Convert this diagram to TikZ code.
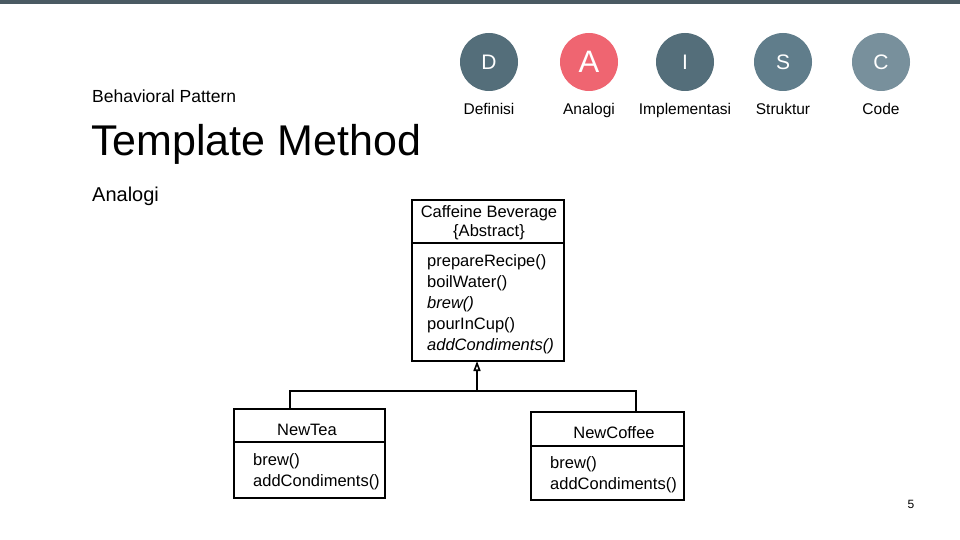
\documentclass[tikz,border=0pt]{standalone}
\usepackage{fontspec}
\setmainfont{Liberation Sans}
\usetikzlibrary{positioning,arrows.meta}

\definecolor{slate}{HTML}{546E7A}
\definecolor{slatemid}{HTML}{607D8B}
\definecolor{slatelight}{HTML}{78909C}
\definecolor{rosered}{HTML}{EF6571}
\definecolor{topbar}{HTML}{4A5A63}

\tikzset{
  stepdot/.style={circle,minimum size=58pt,inner sep=0pt,text=white,font=\fontsize{21}{21}\selectfont},
  steplabel/.style={font=\fontsize{15.5}{17}\selectfont,text=black},
  umlbox/.style={draw,line width=1.6pt},
  umltext/.style={font=\fontsize{16.5}{21}\selectfont,align=left,anchor=north west,inner sep=0pt}
}

\begin{document}
\begin{tikzpicture}[x=1pt,y=-1pt]

\useasboundingbox (0,0) rectangle (960,540);
\fill[topbar] (0,0) rectangle (960,4);

% title block
\node[anchor=base west,inner sep=0pt,font=\fontsize{17.5}{20}\selectfont] (pattern) at (92,103) {Behavioral Pattern};
\node[anchor=base west,inner sep=0pt,font=\fontsize{43}{46}\selectfont] (title) at (91,156) {Template Method};
\node[anchor=base west,inner sep=0pt,font=\fontsize{20}{22}\selectfont] (section) at (92,201) {Analogi};

% step circles
\node[stepdot,fill=slate] (d) at (489,62) {D};
\node[stepdot,fill=rosered,font=\fontsize{31}{31}\selectfont] (a) at (589,62) {A};
\node[stepdot,fill=slate] (i) at (685,62) {I};
\node[stepdot,fill=slatemid] (s) at (783,62) {S};
\node[stepdot,fill=slatelight] (c) at (881,62) {C};
\foreach \n/\t in {d/Definisi,a/Analogi,i/Implementasi,s/Struktur,c/Code}{
	\node[steplabel,anchor=base] at ([yshift=-53pt]\n.center) {\t};
}

% abstract class
\draw[umlbox] (412,200) rectangle (564,361);
\draw[umlbox] (412,243) -- (564,243);
\node[font=\fontsize{16.5}{19}\selectfont,align=center,inner sep=0pt,anchor=north] (cbname) at (489,205) {Caffeine Beverage\\\{Abstract\}};
\node[umltext] (cbops) at (427,254) {prepareRecipe()\\boilWater()\\\textit{brew()}\\pourInCup()\\\textit{addCondiments()}};

% subclasses
\draw[umlbox] (234,409) rectangle (385,498);
\draw[umlbox] (234,442) -- (385,442);
\node[font=\fontsize{16.5}{19}\selectfont,inner sep=0pt,anchor=base] (tea) at (307,435) {NewTea};
\node[umltext] (teaops) at (253,453) {brew()\\addCondiments()};

\draw[umlbox] (531,412) rectangle (684,500);
\draw[umlbox] (531,446) -- (684,446);
\node[font=\fontsize{16.5}{19}\selectfont,inner sep=0pt,anchor=base] (coffee) at (614,438) {NewCoffee};
\node[umltext] (coffeeops) at (550,456) {brew()\\addCondiments()};

% generalisation
\coordinate (cbbottom) at (477,361);
\coordinate (junction) at (477,391);
\draw[line width=2.2pt] (290,409) -- (290,391) -- (636,391) -- (636,412);
\draw[line width=1.6pt,-{Triangle[open,length=10pt,width=7pt]}] (junction) -- (cbbottom);

\node[font=\fontsize{12}{13}\selectfont,anchor=base] (page) at (911,508) {5};

\end{tikzpicture}
\end{document}
